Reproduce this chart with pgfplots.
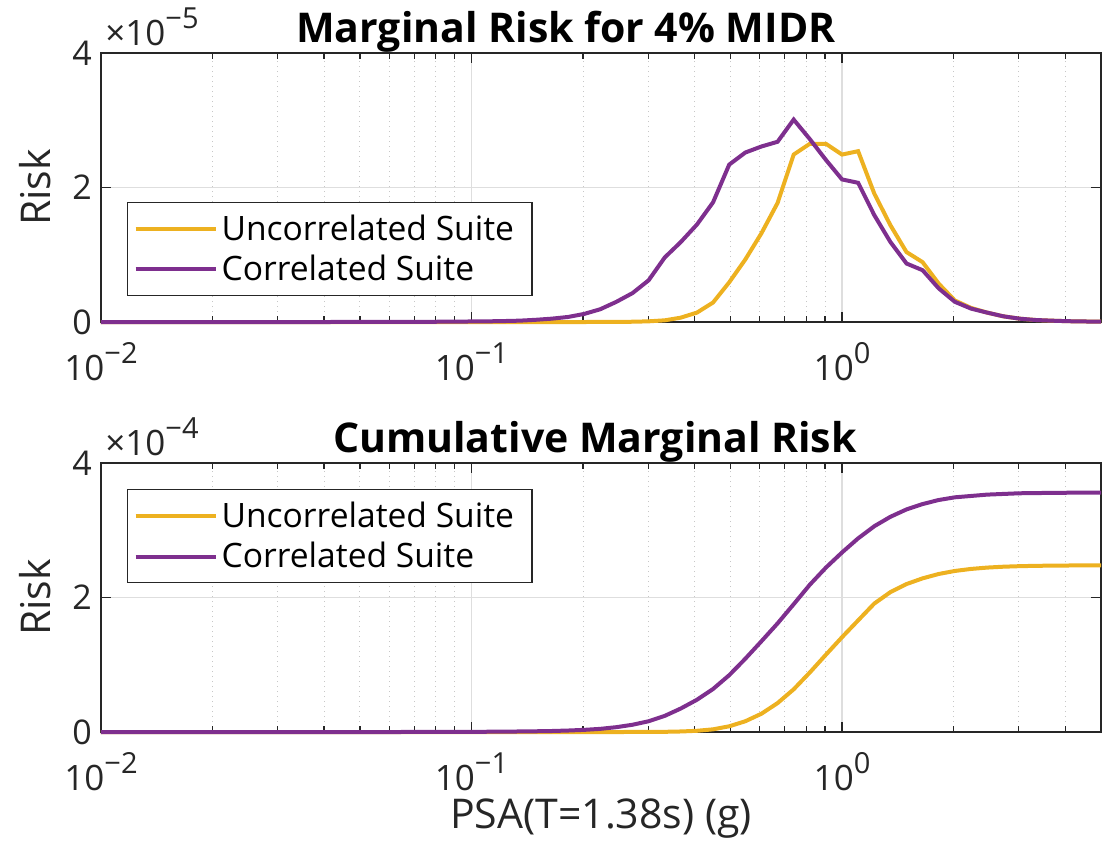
\documentclass[border=0pt]{standalone}
\usepackage{fontspec}
\setmainfont{Open Sans}
\usepackage{pgfplots}
\pgfplotsset{compat=1.18}
\usepackage{pgfplotstable}

\definecolor{unc}{rgb}{0.929,0.694,0.125}
\definecolor{cor}{rgb}{0.494,0.184,0.556}
\definecolor{axgray}{rgb}{0.15,0.15,0.15}

\newcommand\tickfont{\fontsize{17}{20}\selectfont}
\newcommand\xtickfont{\fontsize{17.5}{20}\selectfont}
\newcommand\legfont{\fontsize{16.8}{19}\selectfont}
\newcommand\labfont{\fontsize{20.5}{24}\selectfont}
\newcommand\expo[1]{\raisebox{8.5pt}{\fontsize{14.5}{16}\selectfont #1}}

% x: PSA(T=1.38s) in g
% um, cm: marginal risk (uncorrelated / correlated suite)
% uc, cc: cumulative marginal risk (uncorrelated / correlated suite)
\pgfplotstableread{
x        um        cm        uc         cc
0.0100   0         0         0          0
0.01103  0         0         0          0
0.01219  0         0         0          0
0.01347  0         0         0          0
0.01489  0         0         0          0
0.01646  0         0         0          0
0.01820  0         0         0          0
0.02011  0         0         0          0
0.02223  0         0         0          0
0.02457  0         0         0          0
0.02716  0         0         0          0
0.03002  0         0         0          0
0.03319  0         0         0          0
0.03668  0         0         0          0
0.04055  0         0         0          0
0.04482  0         0.0005e-5 0          0
0.04955  0         0.001e-5  0          0
0.05476  0         0.001e-5  0          0
0.06053  0         0.002e-5  0          0.0001e-4
0.06691  0         0.002e-5  0          0.0003e-4
0.07396  0         0.003e-5  0          0.0005e-4
0.08175  0         0.004e-5  0          0.001e-4
0.09036  0         0.006e-5  0          0.002e-4
0.09988  0         0.008e-5  0          0.003e-4
0.1104   0         0.010e-5  0          0.004e-4
0.1220   0         0.014e-5  0          0.006e-4
0.1349   0         0.020e-5  0          0.008e-4
0.1491   0         0.033e-5  0          0.011e-4
0.1648   0         0.050e-5  0          0.015e-4
0.1822   0         0.075e-5  0          0.022e-4
0.2014   0         0.12e-5   0          0.032e-4
0.2226   0.001e-5  0.19e-5   0          0.047e-4
0.2460   0.002e-5  0.30e-5   0          0.072e-4
0.2720   0.004e-5  0.43e-5   0.0005e-4  0.108e-4
0.3006   0.010e-5  0.62e-5   0.001e-4   0.16e-4
0.3323   0.025e-5  0.96e-5   0.003e-4   0.24e-4
0.3673   0.065e-5  1.19e-5   0.008e-4   0.35e-4
0.4060   0.14e-5   1.45e-5   0.018e-4   0.48e-4
0.4487   0.29e-5   1.78e-5   0.040e-4   0.64e-4
0.4960   0.59e-5   2.34e-5   0.085e-4   0.845e-4
0.5483   0.93e-5   2.52e-5   0.16e-4    1.09e-4
0.6061   1.32e-5   2.61e-5   0.272e-4   1.35e-4
0.6699   1.77e-5   2.68e-5   0.43e-4    1.615e-4
0.7405   2.49e-5   3.01e-5   0.635e-4   1.90e-4
0.8185   2.65e-5   2.72e-5   0.885e-4   2.19e-4
0.9048   2.65e-5   2.41e-5   1.15e-4    2.445e-4
1.0000   2.49e-5   2.12e-5   1.41e-4    2.67e-4
1.1053   2.54e-5   2.07e-5   1.66e-4    2.88e-4
1.2218   1.91e-5   1.59e-5   1.91e-4    3.06e-4
1.3504   1.44e-5   1.19e-5   2.08e-4    3.20e-4
1.4928   1.04e-5   0.87e-5   2.20e-4    3.31e-4
1.6501   0.89e-5   0.77e-5   2.285e-4   3.39e-4
1.8239   0.57e-5   0.50e-5   2.35e-4    3.45e-4
2.0161   0.32e-5   0.30e-5   2.395e-4   3.49e-4
2.2284   0.21e-5   0.20e-5   2.425e-4   3.51e-4
2.4632   0.14e-5   0.14e-5   2.445e-4   3.53e-4
2.7227   0.085e-5  0.085e-5  2.458e-4   3.54e-4
3.0096   0.05e-5   0.05e-5   2.466e-4   3.55e-4
3.3266   0.03e-5   0.03e-5   2.471e-4   3.553e-4
3.6771   0.02e-5   0.02e-5   2.474e-4   3.556e-4
4.0644   0.012e-5  0.012e-5  2.476e-4   3.558e-4
4.4926   0.008e-5  0.008e-5  2.477e-4   3.559e-4
5.0000   0.005e-5  0.005e-5  2.478e-4   3.56e-4
}\risktable

% settings shared by both panels
\pgfplotsset{
  legend image code/.code={\draw[#1, line width=2pt] (0pt,0pt) -- (40pt,0pt);},
  width=500pt, height=134.5pt, scale only axis,
  scaled y ticks=false,
  axis line style={axgray, line width=0.8pt},
  tick style={axgray, line width=0.6pt},
  tick align=inside,
  major tick length=5pt, minor tick length=3pt,
  major grid style={color=black!13, line width=0.6pt},
  minor grid style={color=black!22, line width=0.5pt, dotted},
  tick label style={font=\tickfont, text=axgray},
  yticklabel style={xshift=-1pt},
  xticklabel style={font=\xtickfont, anchor=base, yshift=-29pt},
  every axis y label/.style={at={(axis description cs:0,0.5)},
    xshift=-33pt, rotate=90, anchor=center, font=\labfont, text=axgray},
  every axis x label/.style={at={(axis description cs:0.5,0)},
    yshift=-48pt, anchor=base, font=\labfont, text=axgray},
  every axis title/.style={anchor=base, yshift=5.5pt,
    font=\bfseries\fontsize{20.5}{24}\selectfont, text=black},
  legend cell align=left,
  legend style={anchor=north west, draw=axgray, line width=0.6pt,
    fill=white, font=\legfont, text=black,
    inner xsep=3pt, inner ysep=4pt, row sep=2pt},
  every axis plot/.append style={line width=2pt, no marks},
}

\begin{document}
\begin{tikzpicture}
\path (-50.5pt,26.5pt) rectangle (508pt,-397.5pt);

\begin{axis}[at={(0pt,0pt)}, anchor=north west,
    xmode=log, xmin=0.01, xmax=5, ymin=0, ymax=4e-5, clip=false,
    xtick={0.01,0.1,1},
    xticklabels={{10\expo{−2}},{10\expo{−1}},{10\expo{0}}},
    minor xtick={0.02,0.03,0.04,0.05,0.06,0.07,0.08,0.09,
                 0.2,0.3,0.4,0.5,0.6,0.7,0.8,0.9,2,3,4},
    xmajorgrids, xminorgrids, ymajorgrids,
    ytick={0,2e-5,4e-5}, yticklabels={0,2,4},
    ylabel={Risk},
    title={Marginal Risk for 4\% MIDR},
    title style={at={(axis description cs:0.465,1)}},
    legend style={at={(axis description cs:0.026,0.446)}}]
  \addplot[unc] table[x=x, y=um] {\risktable};
  \addplot[cor] table[x=x, y=cm] {\risktable};
  \legend{Uncorrelated Suite\hspace*{4pt}, Correlated Suite}
  \node[anchor=base west, inner sep=0pt, font=\xtickfont, text=axgray]
    at ([shift={(2pt,4pt)}]rel axis cs:0,1) {×10\expo{−5}};
\end{axis}

\begin{axis}[at={(0pt,-205pt)}, anchor=north west,
    xmode=log, xmin=0.01, xmax=5, ymin=0, ymax=4e-4, clip=false,
    xtick={0.01,0.1,1},
    xticklabels={{10\expo{−2}},{10\expo{−1}},{10\expo{0}}},
    minor xtick={0.02,0.03,0.04,0.05,0.06,0.07,0.08,0.09,
                 0.2,0.3,0.4,0.5,0.6,0.7,0.8,0.9,2,3,4},
    xmajorgrids, xminorgrids, ymajorgrids,
    ytick={0,2e-4,4e-4}, yticklabels={0,2,4},
    ylabel={Risk},
    title={Cumulative Marginal Risk},
    title style={at={(axis description cs:0.494,1)}},
    xlabel={PSA(T=1.38s) (g)},
    legend style={at={(axis description cs:0.026,0.903)}}]
  \addplot[unc] table[x=x, y=uc] {\risktable};
  \addplot[cor] table[x=x, y=cc] {\risktable};
  \legend{Uncorrelated Suite\hspace*{4pt}, Correlated Suite}
  \node[anchor=base west, inner sep=0pt, font=\xtickfont, text=axgray]
    at ([shift={(2pt,4pt)}]rel axis cs:0,1) {×10\expo{−4}};
\end{axis}
\end{tikzpicture}
\end{document}
